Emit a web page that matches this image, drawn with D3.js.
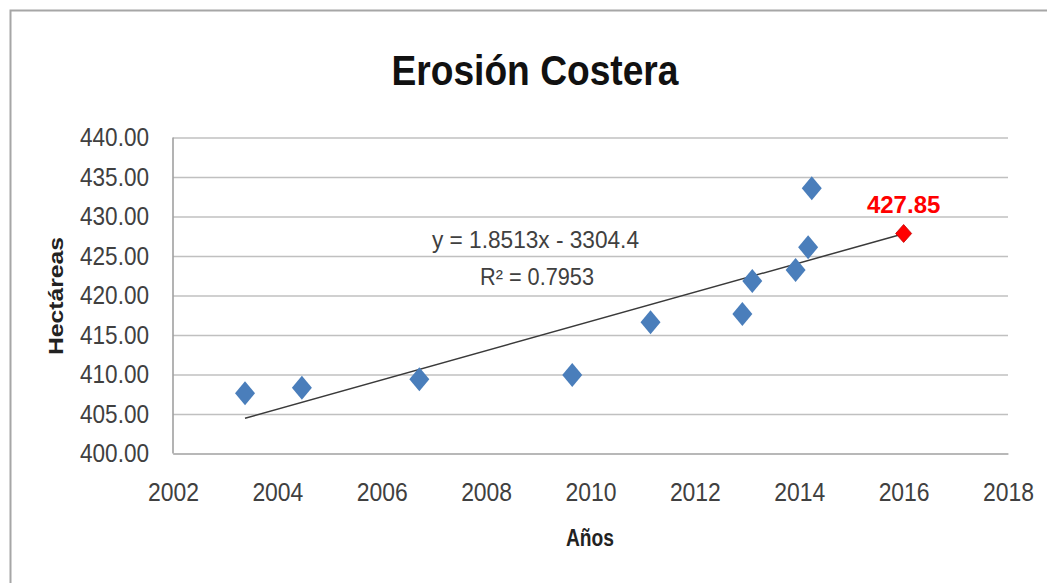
<!DOCTYPE html>
<html>
<head>
<meta charset="utf-8">
<script src="https://cdn.jsdelivr.net/npm/d3@7"></script>
<style>
  html, body { margin: 0; padding: 0; background: #fff; }
  svg { display: block; }
</style>
</head>
<body>
<svg id="chart" width="1047" height="583"></svg>
<script>
// ---- data ----
const years  = [2003.38, 2004.47, 2006.72, 2009.65, 2011.15, 2012.91, 2013.10, 2013.93, 2014.17, 2014.24];
const values = [407.62, 408.33, 409.39, 409.94, 416.60, 417.66, 421.84, 423.23, 426.10, 433.57];
const forecastYear  = 2016;
const forecastValue = 427.85;
const trendSlope = 1.8513;
const trendIntercept = -3304.4;
const xTicks = [2002, 2004, 2006, 2008, 2010, 2012, 2014, 2016, 2018];
const yTicks = [400, 405, 410, 415, 420, 425, 430, 435, 440];
const titleText = "Erosión Costera";
const xLabel = "Años";
const yLabel = "Hectáreas";
const eqText = "y = 1.8513x - 3304.4";
const r2Text = "R² = 0.7953";

// ---- layout ----
const svg = d3.select("#chart");
const L = 173, R = 1008, T = 137.5, B = 453.5;
const x = d3.scaleLinear().domain([2002, 2018]).range([L, R]);
const y = d3.scaleLinear().domain([400, 440]).range([B, T]);
const sans = "'Liberation Sans', Arial, sans-serif";
const narrow = "'Liberation Sans Narrow', 'Arial Narrow', 'Liberation Sans', sans-serif";

// outer border
svg.append("rect").attr("x", 10.5).attr("y", 10.5).attr("width", 1100).attr("height", 700)
  .attr("fill", "none").attr("stroke", "#a6a6a6").attr("stroke-width", 2);

// title
svg.append("text").attr("x", 535).attr("y", 85).attr("text-anchor", "middle")
  .attr("font-family", narrow).attr("font-weight", "bold").attr("font-size", 42)
  .attr("textLength", 287).attr("lengthAdjust", "spacingAndGlyphs")
  .attr("fill", "#111").text(titleText);

// gridlines
const yAxis = d3.axisLeft(y).tickValues(yTicks).tickSize(-(R - L)).tickFormat(d3.format(".2f")).tickPadding(24);
const gy = svg.append("g").attr("transform", `translate(${L},0)`).call(yAxis);
gy.select(".domain").remove();
gy.selectAll(".tick line").attr("stroke", "#c0c0c0").attr("stroke-width", 1.6);
gy.selectAll(".tick text").attr("font-family", narrow).attr("font-size", 25.5).attr("fill", "#404040")
  .attr("textLength", 69).attr("lengthAdjust", "spacingAndGlyphs");

// y axis line
svg.append("line").attr("x1", L).attr("x2", L).attr("y1", T).attr("y2", B)
  .attr("stroke", "#a0a0a0").attr("stroke-width", 1.6);

// x axis
const xAxis = d3.axisBottom(x).tickValues(xTicks).tickSize(0).tickFormat(d3.format("d")).tickPadding(29);
const gx = svg.append("g").attr("transform", `translate(0,${B})`).call(xAxis);
gx.select(".domain").attr("stroke", "#b0b0b0").attr("stroke-width", 1.6);
gx.selectAll(".tick text").attr("font-family", narrow).attr("font-size", 25.5).attr("fill", "#404040")
  .attr("textLength", 51).attr("lengthAdjust", "spacingAndGlyphs");

// axis titles
svg.append("text").attr("x", 590).attr("y", 546).attr("text-anchor", "middle")
  .attr("font-family", narrow).attr("font-weight", "bold").attr("font-size", 23)
  .attr("textLength", 48).attr("lengthAdjust", "spacingAndGlyphs")
  .attr("fill", "#222").text(xLabel);
svg.append("text").attr("transform", "translate(63,296) rotate(-90)").attr("text-anchor", "middle")
  .attr("font-family", sans).attr("font-weight", "bold").attr("font-size", 20)
  .attr("textLength", 118).attr("lengthAdjust", "spacingAndGlyphs")
  .attr("fill", "#222").text(yLabel);

// trendline
const trend = d => trendSlope * d + trendIntercept;
const tx0 = d3.min(years), tx1 = forecastYear;
svg.append("line")
  .attr("x1", x(tx0)).attr("y1", y(trend(tx0)))
  .attr("x2", x(tx1)).attr("y2", y(trend(tx1)))
  .attr("stroke", "#3a3a3a").attr("stroke-width", 1.5);

// diamonds
const diamond = (w, h) => `M0,${-h}L${w},0L0,${h}L${-w},0Z`;
svg.append("g").selectAll("path").data(d3.zip(years, values)).join("path")
  .attr("transform", d => `translate(${x(d[0])},${y(d[1])})`)
  .attr("d", diamond(10, 12)).attr("fill", "#4a7ebb");

svg.append("path")
  .attr("transform", `translate(${x(forecastYear)},${y(forecastValue)})`)
  .attr("d", diamond(8, 9)).attr("fill", "#ff0000").attr("stroke", "#c00000").attr("stroke-width", 0.8);

svg.append("text").attr("x", x(forecastYear)).attr("y", 213).attr("text-anchor", "middle")
  .attr("font-family", sans).attr("font-weight", "bold").attr("font-size", 24)
  .attr("fill", "#ff0000").text(d3.format(".2f")(forecastValue));

// equation
svg.append("text").attr("x", 535.5).attr("y", 248).attr("text-anchor", "middle")
  .attr("font-family", narrow).attr("font-size", 23).attr("fill", "#404040")
  .attr("textLength", 207).attr("lengthAdjust", "spacingAndGlyphs").text(eqText);
svg.append("text").attr("x", 537).attr("y", 285).attr("text-anchor", "middle")
  .attr("font-family", narrow).attr("font-size", 23).attr("fill", "#404040")
  .attr("textLength", 114).attr("lengthAdjust", "spacingAndGlyphs").text(r2Text);
</script>
</body>
</html>
